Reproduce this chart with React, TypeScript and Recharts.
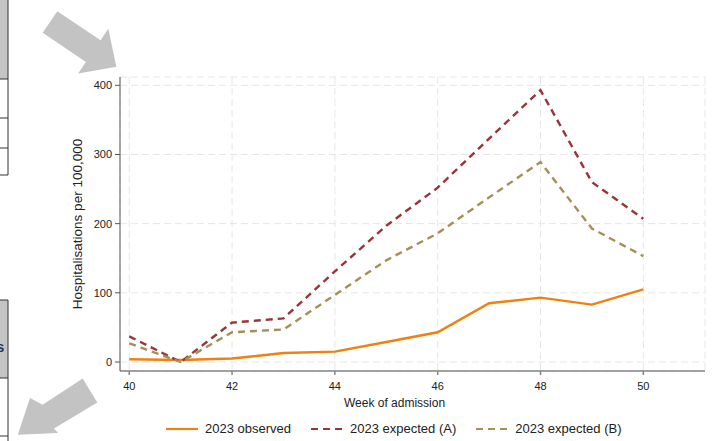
import { LineChart, Line, XAxis, YAxis, CartesianGrid, Legend } from 'recharts';

const weeks = [40, 41, 42, 43, 44, 45, 46, 47, 48, 49, 50];
const observed = [4, 3, 5, 13, 15, 29, 43, 85, 93, 83, 105];
const expectedA = [37, 0, 57, 63, 131, 197, 252, 323, 393, 260, 207];
const expectedB = [27, 0, 43, 47, 97, 147, 186, 238, 289, 193, 153];

const xTicks = [40, 42, 44, 46, 48, 50];
const yTicks = [0, 100, 200, 300, 400];

const data = weeks.map((week, i) => ({
  week,
  observed: observed[i],
  expectedA: expectedA[i],
  expectedB: expectedB[i],
}));

const FONT = '"Liberation Sans", Arial, Helvetica, sans-serif';

const series = [
  { key: 'observed', label: '2023 observed', color: '#ee810f', dash: undefined },
  { key: 'expectedA', label: '2023 expected (A)', color: '#9a343a', dash: '7 5' },
  { key: 'expectedB', label: '2023 expected (B)', color: '#a48f57', dash: '7 5' },
];

function YTitle({ viewBox }: any) {
  const x = viewBox.x + 17;
  const y = viewBox.y + viewBox.height / 2;
  return (
    <text
      x={x}
      y={y}
      transform={`rotate(-90 ${x} ${y})`}
      textAnchor="middle"
      dominantBaseline="central"
      fontSize={13.5}
      fontFamily={FONT}
      fill="#222"
    >
      Hospitalisations per 100,000
    </text>
  );
}

function XTitle({ viewBox }: any) {
  return (
    <text
      x={viewBox.x + viewBox.width / 2 - 18}
      y={viewBox.y + 32}
      textAnchor="middle"
      dominantBaseline="central"
      fontSize={12}
      fontFamily={FONT}
      fill="#222"
    >
      Week of admission
    </text>
  );
}

// legend drawn in the series order, not the payload order
function LegendContent() {
  return (
    <div style={{ display: 'flex', alignItems: 'center', paddingLeft: 166, fontFamily: FONT, fontSize: 13, color: '#222' }}>
      {series.map((s) => (
        <div key={s.key} style={{ display: 'flex', alignItems: 'center', marginRight: 20 }}>
          <svg width={32} height={6} style={{ marginRight: 7 }}>
            <line x1={0} y1={3} x2={32} y2={3} stroke={s.color} strokeWidth={2.2} strokeDasharray={s.dash} />
          </svg>
          <span>{s.label}</span>
        </div>
      ))}
    </div>
  );
}

// grey arrows and table edges around the figure in the screenshot
function Decorations() {
  return (
    <svg width={712} height={441} style={{ position: 'absolute', left: 0, top: 0 }}>
      <rect x={-2} y={-2} width={10} height={81} fill="#c4c4c4" />
      <line x1={8} y1={0} x2={8} y2={175} stroke="#333" strokeWidth={1} />
      <line x1={0} y1={79} x2={8} y2={79} stroke="#333" strokeWidth={1} />
      <line x1={0} y1={118} x2={8} y2={118} stroke="#333" strokeWidth={1} />
      <line x1={0} y1={148} x2={8} y2={148} stroke="#333" strokeWidth={1} />
      <line x1={0} y1={175} x2={8} y2={175} stroke="#333" strokeWidth={1} />
      <rect x={-2} y={300} width={10} height={78} fill="#c4c4c4" />
      <line x1={0} y1={300} x2={8} y2={300} stroke="#333" strokeWidth={1} />
      <line x1={8} y1={300} x2={8} y2={441} stroke="#333" strokeWidth={1} />
      <line x1={0} y1={378} x2={8} y2={378} stroke="#333" strokeWidth={1} />
      <line x1={0} y1={436} x2={8} y2={436} stroke="#333" strokeWidth={1} />
      <text x={-4} y={352} fontSize={15} fontWeight="bold" fontFamily={FONT} fill="#1f3864">s</text>
      <polygon
        points="57.3,11.2 100.5,40.3 108.3,28.7 116.4,66.8 78.1,73.5 85.9,61.9 42.7,32.8"
        fill="#c3c3c3"
      />
      <polygon
        points="82.7,378.6 42.6,404.8 30,398 17.8,434.7 58,433 54,428.6 97.3,402.4"
        fill="#c3c3c3"
      />
    </svg>
  );
}

export default function App() {
  return (
    <div style={{ position: 'absolute', left: 0, top: 0, width: 712, height: 441, background: '#fff' }}>
      <Decorations />
      <div style={{ position: 'absolute', left: 0, top: 0 }}>
        <LineChart width={712} height={441} data={data} margin={{ top: 77, right: 7, bottom: 40, left: 60 }}>
          <CartesianGrid stroke="#e6e6e6" strokeDasharray="7 4" />
          <XAxis
            dataKey="week"
            type="number"
            domain={[39.82, 51.2]}
            ticks={xTicks}
            allowDataOverflow
            height={30}
            stroke="#858585"
            strokeWidth={1.5}
            tickSize={4}
            tickMargin={7}
            tick={{ fontSize: 11, fill: '#222', fontFamily: FONT }}
            label={<XTitle />}
          />
          <YAxis
            type="number"
            domain={[-13, 412]}
            ticks={yTicks}
            allowDataOverflow
            width={60}
            stroke="#555"
            tickSize={5}
            tickMargin={3}
            tick={{ fontSize: 11, fill: '#222', fontFamily: FONT }}
            label={<YTitle />}
          />
          <Legend
            verticalAlign="middle"
            layout="horizontal"
            content={<LegendContent />}
            wrapperStyle={{ left: 0, top: 421, width: 712 }}
          />
          {series.map((s) => (
            <Line
              key={s.key}
              type="linear"
              dataKey={s.key}
              name={s.label}
              stroke={s.color}
              strokeWidth={2.4}
              strokeDasharray={s.dash}
              dot={false}
              isAnimationActive={false}
            />
          ))}
        </LineChart>
      </div>
    </div>
  );
}
